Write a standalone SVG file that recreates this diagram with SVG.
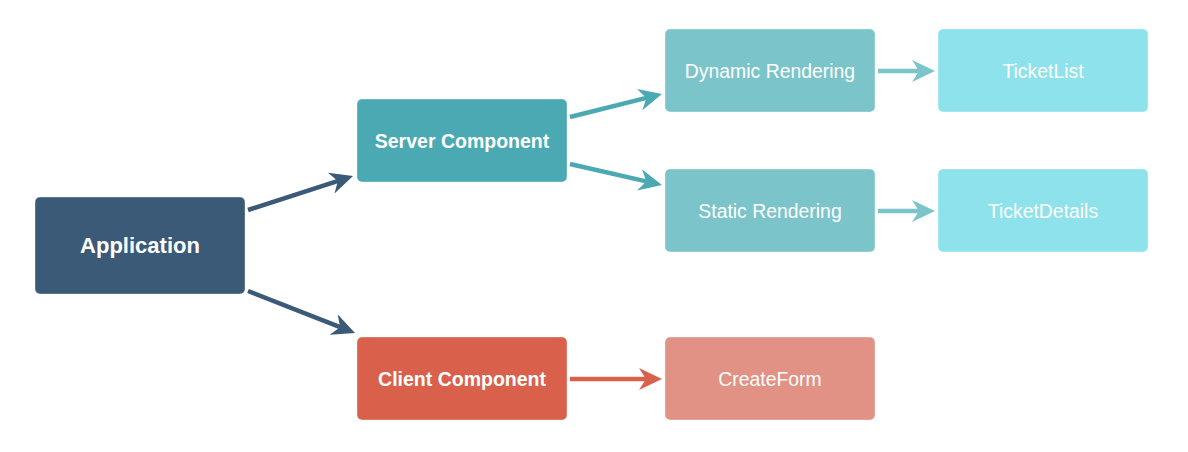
<svg xmlns="http://www.w3.org/2000/svg" width="1188" height="452" viewBox="0 0 1188 452">
<style>
.node rect{stroke:#ffffff;stroke-opacity:0.35;stroke-width:1}
.node text{font-family:"Liberation Sans",Arial,sans-serif;fill:#ffffff;text-anchor:middle;dominant-baseline:central}
.b{font-weight:bold;font-size:19.5px}
.r{font-size:19.4px}
.conn line{stroke-width:4.5;fill:none}
</style>
<defs>
<marker id="h-app" markerUnits="userSpaceOnUse" markerWidth="23" markerHeight="22" refX="9" refY="11" orient="auto" viewBox="0 0 23 22"><path d="M0,0 L23,11 L0,22 L7,11 Z" fill="#3b5a78"/></marker>
<marker id="h-srv" markerUnits="userSpaceOnUse" markerWidth="23" markerHeight="22" refX="9" refY="11" orient="auto" viewBox="0 0 23 22"><path d="M0,0 L23,11 L0,22 L7,11 Z" fill="#4aa9b3"/></marker>
<marker id="h-rend" markerUnits="userSpaceOnUse" markerWidth="23" markerHeight="22" refX="9" refY="11" orient="auto" viewBox="0 0 23 22"><path d="M0,0 L23,11 L0,22 L7,11 Z" fill="#7bc5ca"/></marker>
<marker id="h-cli" markerUnits="userSpaceOnUse" markerWidth="23" markerHeight="22" refX="9" refY="11" orient="auto" viewBox="0 0 23 22"><path d="M0,0 L23,11 L0,22 L7,11 Z" fill="#d9614b"/></marker>
</defs>
<rect width="1188" height="452" fill="#ffffff"/>
<g id="connectors" class="conn">
<line x1="248" y1="210" x2="339.7" y2="180.3" stroke="#3b5a78" marker-end="url(#h-app)"/>
<line x1="248" y1="291" x2="342" y2="327.9" stroke="#3b5a78" marker-end="url(#h-app)"/>
<line x1="570" y1="117" x2="648.4" y2="97.4" stroke="#4aa9b3" marker-end="url(#h-srv)"/>
<line x1="570" y1="164" x2="648.3" y2="181.9" stroke="#4aa9b3" marker-end="url(#h-srv)"/>
<line x1="878" y1="71" x2="921" y2="71" stroke="#7bc5ca" marker-end="url(#h-rend)"/>
<line x1="878" y1="211" x2="921" y2="211" stroke="#7bc5ca" marker-end="url(#h-rend)"/>
<line x1="570" y1="379" x2="648" y2="379" stroke="#d9614b" marker-end="url(#h-cli)"/>
</g>
<g id="application" class="node"><rect x="35" y="197" width="210" height="97" rx="5" fill="#3b5a78"/><text x="140" y="245.5" class="b" style="font-size:22px">Application</text></g>
<g id="server-component" class="node"><rect x="357" y="99" width="210" height="83" rx="5" fill="#4aa9b3"/><text x="462" y="141" class="b">Server Component</text></g>
<g id="client-component" class="node"><rect x="357" y="337" width="210" height="83" rx="5" fill="#d9614b"/><text x="462" y="379" class="b">Client Component</text></g>
<g id="dynamic-rendering" class="node"><rect x="665" y="29" width="210" height="83" rx="5" fill="#7bc5ca"/><text x="770" y="71" class="r">Dynamic Rendering</text></g>
<g id="static-rendering" class="node"><rect x="665" y="169" width="210" height="83" rx="5" fill="#7bc5ca"/><text x="770" y="211" class="r">Static Rendering</text></g>
<g id="ticket-list" class="node"><rect x="938" y="29" width="210" height="83" rx="5" fill="#8ee2eb"/><text x="1043" y="71" class="r">TicketList</text></g>
<g id="ticket-details" class="node"><rect x="938" y="169" width="210" height="83" rx="5" fill="#8ee2eb"/><text x="1043" y="211" class="r">TicketDetails</text></g>
<g id="create-form" class="node"><rect x="665" y="337" width="210" height="83" rx="5" fill="#e29185"/><text x="770" y="379" class="r">CreateForm</text></g>
</svg>
